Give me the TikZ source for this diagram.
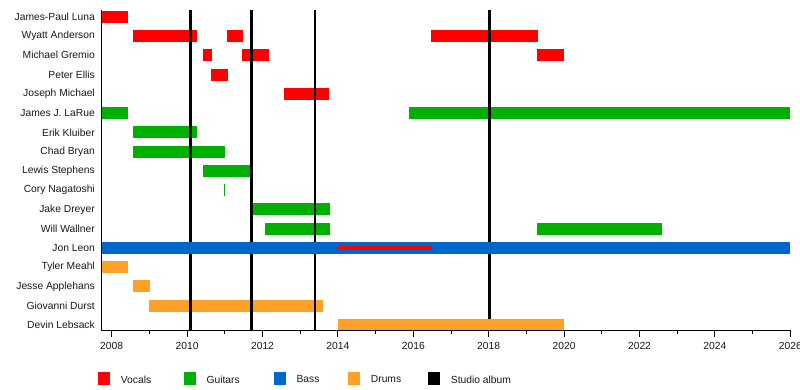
\documentclass[tikz,border=0pt]{standalone}
\usepackage{fontspec}
\setmainfont{Liberation Sans}
\definecolor{cvoc}{RGB}{255,0,0}
\definecolor{cgtr}{RGB}{0,176,0}
\definecolor{cbass}{RGB}{0,102,204}
\definecolor{cdrum}{RGB}{255,160,40}
\newcommand\tlX[1]{111.7+37.7*(#1-2008)}
\newcommand\tlY[1]{16.7+19.27*#1}
\newcommand\tlbar[4]{\fill[#4] ({\tlX{#2}},{\tlY{#1}-6}) rectangle ({\tlX{#3}},{\tlY{#1}+6});}
\begin{document}
\begin{tikzpicture}[x=1pt,y=-1pt,
  lbl/.style={anchor=east,inner sep=0pt,font=\fontsize{10.3}{12}\selectfont,text=black!90},
  yrlbl/.style={anchor=center,inner sep=0pt,font=\fontsize{10.3}{12}\selectfont,text=black!90},
  leglbl/.style={anchor=west,inner sep=0pt,font=\fontsize{10.3}{12}\selectfont,text=black!90},
  album/.style={line width=2.8pt,black}]
\useasboundingbox (0,0) rectangle (800,390);
\fill[white] (0,0) rectangle (800,390);
% names
\foreach \i/\n in {0/James-Paul Luna,1/Wyatt Anderson,2/Michael Gremio,3/Peter Ellis,4/Joseph Michael,5/James J. LaRue,6/Erik Kluiber,7/Chad Bryan,8/Lewis Stephens,9/Cory Nagatoshi,10/Jake Dreyer,11/Will Wallner,12/Jon Leon,13/Tyler Meahl,14/Jesse Applehans,15/Giovanni Durst,16/Devin Lebsack}
  \node[lbl] (name\i) at (95,{\tlY{\i}}) {\n};
% bars under the album lines
\tlbar{0}{2007.716}{2008.42}{cvoc}
\tlbar{1}{2008.57}{2010.25}{cvoc}
\tlbar{1}{2011.07}{2011.47}{cvoc}
\tlbar{1}{2016.47}{2019.30}{cvoc}
\tlbar{2}{2010.43}{2010.66}{cvoc}
\tlbar{2}{2011.46}{2012.17}{cvoc}
\tlbar{2}{2019.28}{2020.0}{cvoc}
\tlbar{3}{2010.63}{2011.08}{cvoc}
\tlbar{4}{2012.57}{2013.77}{cvoc}
\tlbar{5}{2007.716}{2008.42}{cgtr}
\tlbar{5}{2015.89}{2026.0}{cgtr}
\tlbar{6}{2008.57}{2010.25}{cgtr}
\tlbar{7}{2008.57}{2011.0}{cgtr}
\tlbar{8}{2010.42}{2011.69}{cgtr}
\fill[cgtr] ({\tlX{2011.0}-0.6},{\tlY{9}-6}) rectangle ({\tlX{2011.0}+0.6},{\tlY{9}+6});
\tlbar{10}{2011.67}{2013.79}{cgtr}
\tlbar{11}{2012.07}{2013.79}{cgtr}
\tlbar{11}{2019.28}{2022.6}{cgtr}
\tlbar{13}{2007.716}{2008.43}{cdrum}
\tlbar{14}{2008.57}{2009.02}{cdrum}
\tlbar{15}{2008.99}{2013.6}{cdrum}
% studio albums
\foreach \a in {2010.08,2011.70,2013.39,2018.02}
  \draw[album] ({\tlX{\a}},10) -- ({\tlX{\a}},330);
% bars over the album lines
\tlbar{12}{2007.716}{2026.0}{cbass}
\fill[cvoc] ({\tlX{2014.0}},{\tlY{12}-1.8}) rectangle ({\tlX{2016.5}},{\tlY{12}+1.8});
\tlbar{16}{2014.0}{2020.0}{cdrum}
% axes
\draw[black,line width=0.9pt] (101,10) -- (101,330) -- (790.3,330);
\foreach \y in {2008,2010,...,2026}
  \draw[black,line width=0.9pt] ({\tlX{\y}},330) -- ({\tlX{\y}},337);
\foreach \y in {2009,2011,...,2025}
  \draw[black,line width=0.9pt] ({\tlX{\y}},330) -- ({\tlX{\y}},334);
\foreach \y in {2008,2010,...,2026}
  \node[yrlbl] (yr\y) at ({\tlX{\y}},345.5) {\y};
% legend
\foreach \k/\c/\x/\t in {voc/cvoc/98.3/Vocals,gtr/cgtr/184/Guitars,bass/cbass/274/Bass,drum/cdrum/348.3/Drums,alb/black/428.3/Studio album}{
  \fill[\c] (\x,372) rectangle ({\x+12},385);
  \node[leglbl] (leg\k) at ({\x+22.4},379.5) {\t};
}
\end{tikzpicture}
\end{document}
